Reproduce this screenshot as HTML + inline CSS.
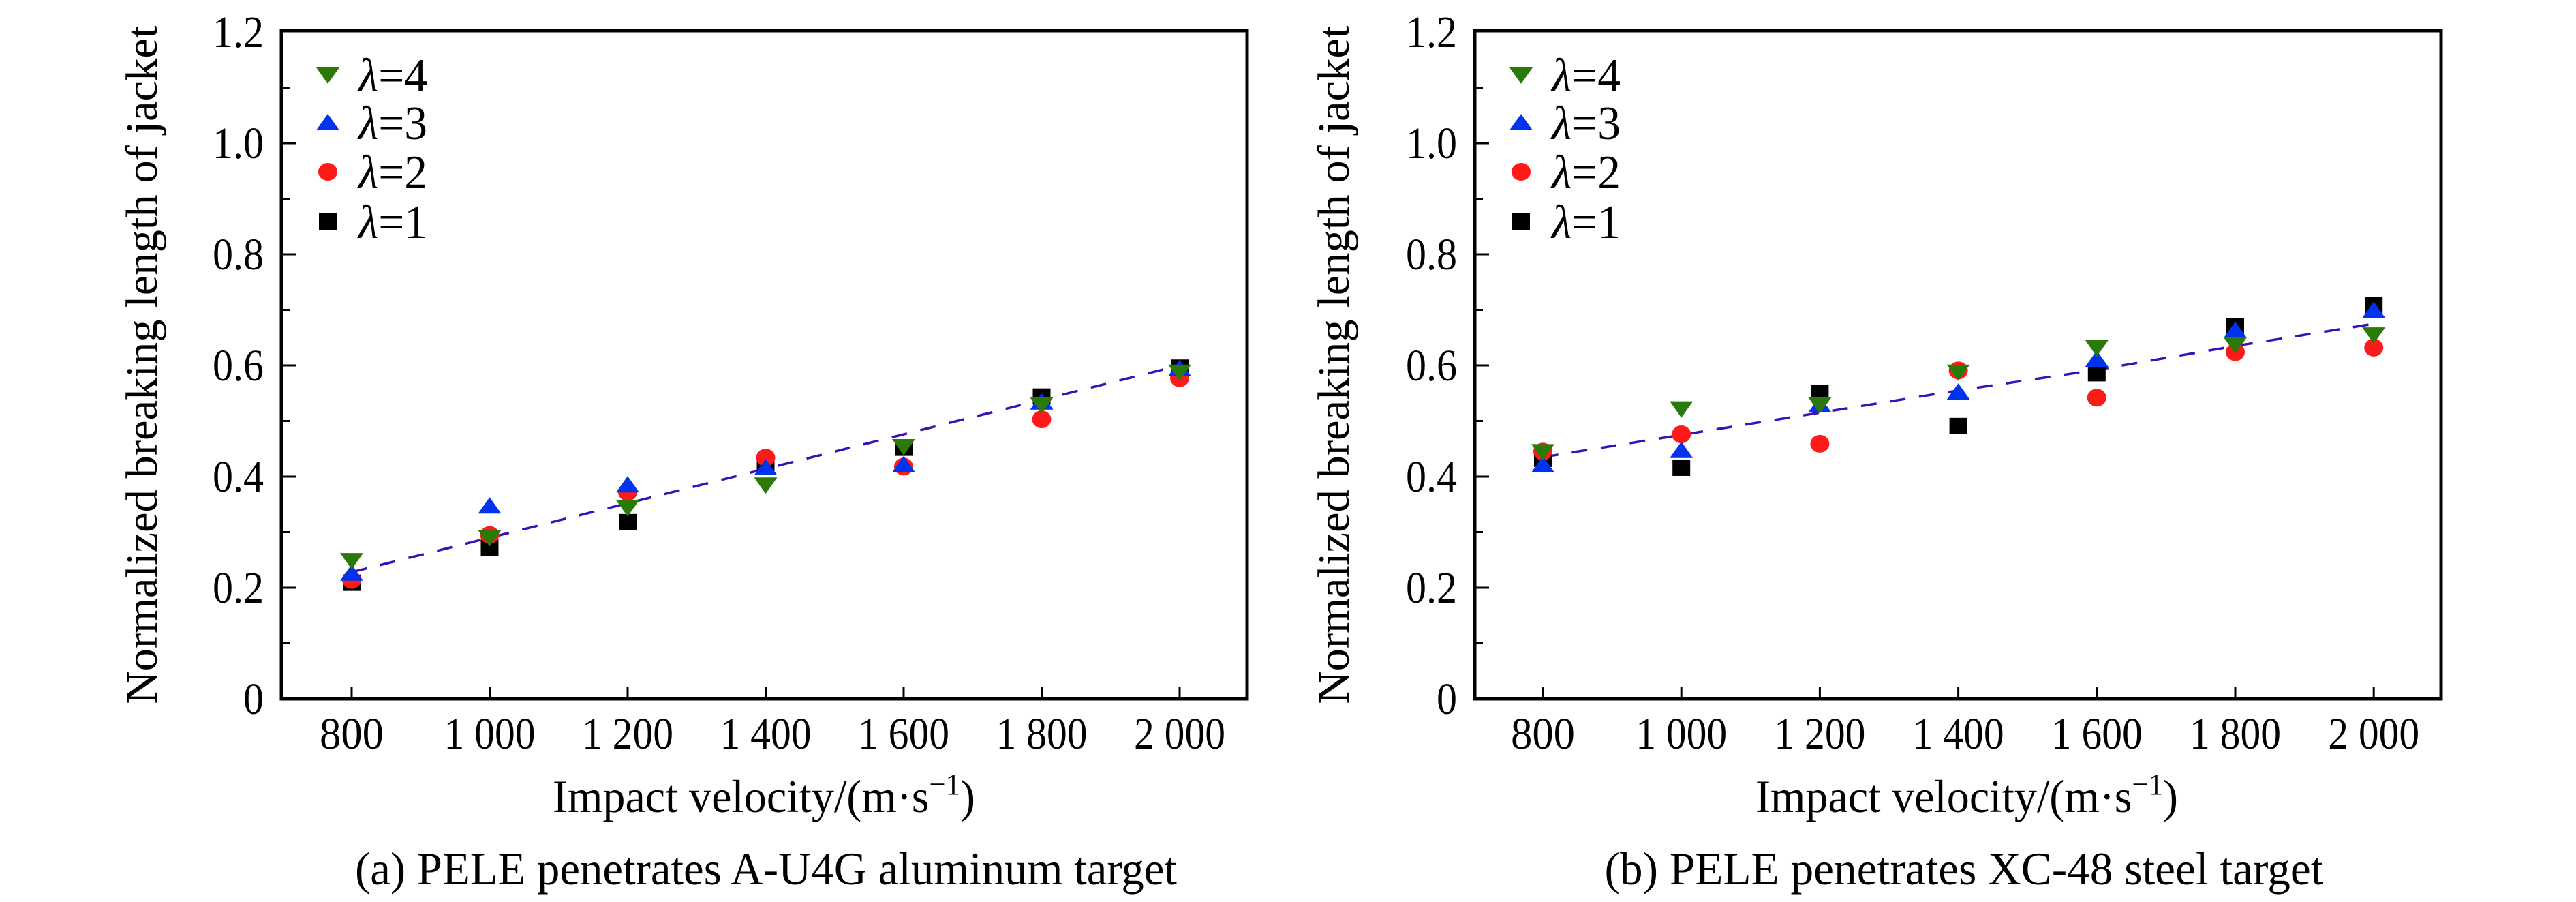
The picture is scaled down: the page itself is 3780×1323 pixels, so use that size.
<!DOCTYPE html>
<html><head><meta charset="utf-8"><style>
html,body{margin:0;padding:0;background:#fff;}
text,tspan{font-family:"Liberation Serif","DejaVu Serif",serif !important;fill:#000;}
</style></head><body>
<svg id="svg" width="3780" height="1318" viewBox="0 0 3780 1318" xmlns="http://www.w3.org/2000/svg"></svg>
<script>
const velocities=[800,1000,1200,1400,1600,1800,2000];
const yTicks=[0,0.2,0.4,0.6,0.8,1.0,1.2];
const yTickLabels=["0","0.2","0.4","0.6","0.8","1.0","1.2"];
const xTickLabels=["800","1 000","1 200","1 400","1 600","1 800","2 000"];
const seriesNames=["λ=4","λ=3","λ=2","λ=1"];
const a_l4=[0.249,0.29,0.344,0.385,0.454,0.529,0.588];
const a_l3=[0.226,0.347,0.385,0.416,0.421,0.534,0.594];
const a_l2=[0.214,0.295,0.372,0.434,0.418,0.503,0.577];
const a_l1=[0.209,0.272,0.318,0.421,0.452,0.544,0.596];
const a_fit=[0.228,0.29,0.352,0.414,0.476,0.538,0.600];
const b_l4=[0.445,0.522,0.529,0.588,0.632,0.637,0.655];
const b_l3=[0.421,0.447,0.529,0.552,0.611,0.663,0.699];
const b_l2=[0.445,0.476,0.459,0.591,0.542,0.624,0.632];
const b_l1=[0.432,0.416,0.55,0.491,0.586,0.671,0.709];
const b_fit=[0.435,0.475,0.515,0.555,0.592,0.635,0.675];

const NS="http://www.w3.org/2000/svg";
const svg=document.getElementById('svg');
function mk(tag,attrs,parent){const e=document.createElementNS(NS,tag);for(const k in attrs)e.setAttribute(k,attrs[k]);if(tag==='text')e.setAttribute('style',"font-family:'Liberation Serif','DejaVu Serif',serif");(parent||svg).appendChild(e);return e;}

function panel(p){
  const g=mk('g',{});
  
  
  const X=v=>p.x800+(v-800)/200*p.step;
  const Y=v=>1025-v*815;
  const box=mk('rect',{x:p.L,y:45,width:p.R-p.L,height:980,fill:'none',stroke:'#000','stroke-width':5},g);
  
  
  for(let i=0;i<yTicks.length;i++){
    const y=Y(yTicks[i]);
    if(i>0&&i<yTicks.length-1){const t=mk('line',{x1:p.L,x2:p.L+21,y1:y,y2:y,stroke:'#000','stroke-width':3},g);
    
    }
    if(i<yTicks.length-1){const ym=Y((yTicks[i]+yTicks[i+1])/2);const m=mk('line',{x1:p.L,x2:p.L+12,y1:ym,y2:ym,stroke:'#000','stroke-width':3},g);
    
    }
    const lab=yTickLabels[i];
    const tx=mk('text',{x:p.L-26,y:y+22,'font-size':66,'text-anchor':'end',textLength:lab.length>1?75:30,lengthAdjust:'spacingAndGlyphs'},g);
    tx.textContent=lab;
    
    
  }
  for(let i=0;i<velocities.length;i++){
    const x=X(velocities[i]);
    const t=mk('line',{x1:x,x2:x,y1:1025,y2:1008,stroke:'#000','stroke-width':3},g);
    
    
    const lab=xTickLabels[i];
    const tx=mk('text',{x:x,y:1098,'font-size':66,'text-anchor':'middle',textLength:lab.length>3?134:94,lengthAdjust:'spacingAndGlyphs'},g);
    tx.textContent=lab;
    
    
  }
  const pts=velocities.map((v,i)=>X(v)+','+Y(p.fit[i])).join(' ');
  const fl=mk('polyline',{points:pts,fill:'none',stroke:'#3a10b8','stroke-width':3.5,'stroke-dasharray':'23 20'},g);
  
  
  const series=[p.l1,p.l2,p.l3,p.l4];
  const kinds=['sq','ci','up','dn'];
  series.forEach((s,si)=>{s.forEach((v,i)=>{const m=marker(g,kinds[si],X(velocities[i]),Y(v));
    
    });});
  const lk=['dn','up','ci','sq'];const ly=[110,180,252,325];
  lk.forEach((k,i)=>{const m=marker(g,k,p.L+68,ly[i]);
    
    
    const t=mk('text',{x:p.L+113,y:ly[i]+24,'font-size':70,textLength:101,lengthAdjust:'spacingAndGlyphs'},g);
    t.innerHTML='<tspan font-style="italic">λ</tspan>=' + seriesNames[i].slice(2);
    
    });
  const yt=mk('text',{x:0,y:0,'font-size':66,'text-anchor':'middle',transform:`translate(${p.yt},535) rotate(-90)`,textLength:995,lengthAdjust:'spacingAndGlyphs'},g);
  yt.textContent='Normalized breaking length of jacket';
  
  
  const xt=mk('text',{x:p.xtc,y:1191,'font-size':68,'text-anchor':'middle',textLength:620,lengthAdjust:'spacingAndGlyphs'},g);
  xt.innerHTML='Impact velocity/(m·s<tspan dy="-26" font-size="44">−1</tspan><tspan dy="26">)</tspan>';
  
  
  const cp=mk('text',{x:p.capc,y:1297,'font-size':68,'text-anchor':'middle',textLength:p.capw,lengthAdjust:'spacingAndGlyphs'},g);
  cp.textContent=p.cap;
  
  
}
function marker(g,k,x,y){
  if(k==='sq')return mk('rect',{x:x-13,y:y-12,width:26,height:24,fill:'#000'},g);
  if(k==='ci')return mk('ellipse',{cx:x,cy:y,rx:14,ry:13,fill:'#ff1a1a'},g);
  if(k==='up')return mk('polygon',{points:`${x-17},${y+11} ${x+17},${y+11} ${x},${y-13}`,fill:'#0033ee'},g);
  return mk('polygon',{points:`${x-17},${y-11} ${x+17},${y-11} ${x},${y+13}`,fill:'#2a7a0a'},g);
}
panel({id:'a',L:413,R:1830,x800:516,step:202.5,yt:230,xtc:1121,capc:1124,capw:1206,cap:'(a) PELE penetrates A-U4G aluminum target',l4:a_l4,l3:a_l3,l2:a_l2,l1:a_l1,fit:a_fit});
panel({id:'b',L:2164,R:3582,x800:2264,step:203.2,yt:1979,xtc:2886,capc:2882,capw:1055,cap:'(b) PELE penetrates XC-48 steel target',l4:b_l4,l3:b_l3,l2:b_l2,l1:b_l1,fit:b_fit});
</script>
</body></html>
